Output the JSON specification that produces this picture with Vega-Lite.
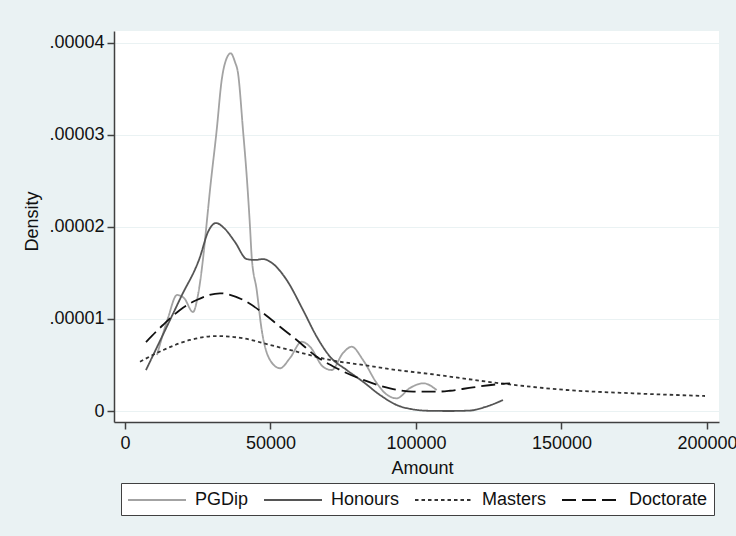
{
  "$schema": "https://vega.github.io/schema/vega-lite/v6.json",
  "width": 605,
  "height": 391,
  "autosize": {"type": "none"},
  "padding": {"left": 114, "top": 31, "right": 17, "bottom": 114},
  "background": "#EAF2F3",
  "config": {
    "font": "Liberation Sans",
    "view": {"fill": "white", "stroke": null}
  },
  "data": {
    "values": [
      {"g": "PGDip", "x": 10996, "y": 6.08e-6},
      {"g": "PGDip", "x": 14776, "y": 1.01e-5},
      {"g": "PGDip", "x": 17869, "y": 1.26e-5},
      {"g": "PGDip", "x": 20274, "y": 1.227e-5},
      {"g": "PGDip", "x": 23367, "y": 1.075e-5},
      {"g": "PGDip", "x": 25086, "y": 1.26e-5},
      {"g": "PGDip", "x": 26804, "y": 1.65e-5},
      {"g": "PGDip", "x": 28075, "y": 2.041e-5},
      {"g": "PGDip", "x": 29209, "y": 2.4e-5},
      {"g": "PGDip", "x": 31511, "y": 3.051e-5},
      {"g": "PGDip", "x": 33229, "y": 3.594e-5},
      {"g": "PGDip", "x": 34707, "y": 3.811e-5},
      {"g": "PGDip", "x": 36322, "y": 3.884e-5},
      {"g": "PGDip", "x": 37800, "y": 3.789e-5},
      {"g": "PGDip", "x": 38831, "y": 3.67e-5},
      {"g": "PGDip", "x": 40549, "y": 3.051e-5},
      {"g": "PGDip", "x": 41924, "y": 2.508e-5},
      {"g": "PGDip", "x": 42955, "y": 2.001e-5},
      {"g": "PGDip", "x": 43537, "y": 1.675e-5},
      {"g": "PGDip", "x": 45256, "y": 1.314e-5},
      {"g": "PGDip", "x": 46974, "y": 8.8e-6},
      {"g": "PGDip", "x": 49828, "y": 5.54e-6},
      {"g": "PGDip", "x": 53264, "y": 4.64e-6},
      {"g": "PGDip", "x": 56700, "y": 5.75e-6},
      {"g": "PGDip", "x": 60721, "y": 7.52e-6},
      {"g": "PGDip", "x": 63573, "y": 6.98e-6},
      {"g": "PGDip", "x": 68041, "y": 4.81e-6},
      {"g": "PGDip", "x": 71030, "y": 4.45e-6},
      {"g": "PGDip", "x": 74913, "y": 6.3e-6},
      {"g": "PGDip", "x": 77903, "y": 6.98e-6},
      {"g": "PGDip", "x": 81786, "y": 5.54e-6},
      {"g": "PGDip", "x": 86494, "y": 3.04e-6},
      {"g": "PGDip", "x": 89690, "y": 1.85e-6},
      {"g": "PGDip", "x": 93366, "y": 1.38e-6},
      {"g": "PGDip", "x": 97937, "y": 2.5e-6},
      {"g": "PGDip", "x": 102507, "y": 3.01e-6},
      {"g": "PGDip", "x": 107112, "y": 2.28e-6},
      {"g": "Honours", "x": 7216, "y": 4.45e-6},
      {"g": "Honours", "x": 19243, "y": 1.238e-5},
      {"g": "Honours", "x": 25773, "y": 1.672e-5},
      {"g": "Honours", "x": 28522, "y": 1.944e-5},
      {"g": "Honours", "x": 31271, "y": 2.041e-5},
      {"g": "Honours", "x": 34020, "y": 1.987e-5},
      {"g": "Honours", "x": 37800, "y": 1.835e-5},
      {"g": "Honours", "x": 41820, "y": 1.65e-5},
      {"g": "Honours", "x": 44673, "y": 1.64e-5},
      {"g": "Honours", "x": 47422, "y": 1.65e-5},
      {"g": "Honours", "x": 50515, "y": 1.607e-5},
      {"g": "Honours", "x": 55566, "y": 1.422e-5},
      {"g": "Honours", "x": 61168, "y": 1.097e-5},
      {"g": "Honours", "x": 65875, "y": 8.07e-6},
      {"g": "Honours", "x": 70446, "y": 5.9e-6},
      {"g": "Honours", "x": 76184, "y": 4.45e-6},
      {"g": "Honours", "x": 81785, "y": 3.18e-6},
      {"g": "Honours", "x": 87628, "y": 1.74e-6},
      {"g": "Honours", "x": 93366, "y": 6.5e-7},
      {"g": "Honours", "x": 98968, "y": 1.8e-7},
      {"g": "Honours", "x": 104810, "y": 2e-8},
      {"g": "Honours", "x": 111683, "y": 0},
      {"g": "Honours", "x": 118555, "y": 5e-8},
      {"g": "Honours", "x": 123710, "y": 4.3e-7},
      {"g": "Honours", "x": 129896, "y": 1.19e-6},
      {"g": "Masters", "x": 5155, "y": 5.35e-6},
      {"g": "Masters", "x": 13161, "y": 6.62e-6},
      {"g": "Masters", "x": 22337, "y": 7.71e-6},
      {"g": "Masters", "x": 31511, "y": 8.14e-6},
      {"g": "Masters", "x": 40652, "y": 7.89e-6},
      {"g": "Masters", "x": 49828, "y": 7.17e-6},
      {"g": "Masters", "x": 59003, "y": 6.44e-6},
      {"g": "Masters", "x": 70446, "y": 5.54e-6},
      {"g": "Masters", "x": 81889, "y": 4.99e-6},
      {"g": "Masters", "x": 93366, "y": 4.45e-6},
      {"g": "Masters", "x": 104810, "y": 4.02e-6},
      {"g": "Masters", "x": 128865, "y": 3.01e-6},
      {"g": "Masters", "x": 151784, "y": 2.28e-6},
      {"g": "Masters", "x": 174568, "y": 1.92e-6},
      {"g": "Masters", "x": 199312, "y": 1.63e-6},
      {"g": "Doctorate", "x": 7216, "y": 7.49e-6},
      {"g": "Doctorate", "x": 13058, "y": 9.34e-6},
      {"g": "Doctorate", "x": 18900, "y": 1.097e-5},
      {"g": "Doctorate", "x": 24638, "y": 1.205e-5},
      {"g": "Doctorate", "x": 32646, "y": 1.278e-5},
      {"g": "Doctorate", "x": 40652, "y": 1.205e-5},
      {"g": "Doctorate", "x": 47525, "y": 1.061e-5},
      {"g": "Doctorate", "x": 53264, "y": 9.15e-6},
      {"g": "Doctorate", "x": 59003, "y": 7.71e-6},
      {"g": "Doctorate", "x": 65875, "y": 5.9e-6},
      {"g": "Doctorate", "x": 72748, "y": 4.64e-6},
      {"g": "Doctorate", "x": 81889, "y": 3.37e-6},
      {"g": "Doctorate", "x": 91064, "y": 2.46e-6},
      {"g": "Doctorate", "x": 99070, "y": 2.1e-6},
      {"g": "Doctorate", "x": 107112, "y": 2.1e-6},
      {"g": "Doctorate", "x": 111683, "y": 2.2e-6},
      {"g": "Doctorate", "x": 119586, "y": 2.57e-6},
      {"g": "Doctorate", "x": 128865, "y": 2.93e-6},
      {"g": "Doctorate", "x": 132301, "y": 3.01e-6}
    ]
  },
  "mark": {"type": "line", "interpolate": "monotone"},
  "encoding": {
    "x": {
      "field": "x", "type": "quantitative",
      "scale": {"domain": [-3780, 204124], "nice": false, "zero": false},
      "axis": {
        "title": "Amount",
        "values": [0, 50000, 100000, 150000, 200000],
        "format": "d",
        "grid": false,
        "domainColor": "#404040", "domainWidth": 1.5,
        "tickColor": "#404040", "tickWidth": 1.5, "tickSize": 7,
        "labelFontSize": 18, "labelColor": "#111", "labelPadding": 5,
        "labelFlush": false, "labelOverlap": false,
        "titleFontSize": 18, "titleFontWeight": "normal", "titleColor": "#111",
        "titleX": 308, "titleY": 46, "titleBaseline": "middle"
      }
    },
    "y": {
      "field": "y", "type": "quantitative",
      "scale": {"domain": [-1.194e-6, 4.126e-5], "nice": false, "zero": false},
      "axis": {
        "title": "Density",
        "values": [0, 0.00001, 0.00002, 0.00003, 0.00004],
        "labelExpr": "datum.value == 0 ? '0' : replace(format(datum.value, '.5f'), '0.', '.')",
        "grid": true, "gridColor": "#EAF2F3", "gridWidth": 1.2,
        "domainColor": "#404040", "domainWidth": 1.5,
        "tickColor": "#404040", "tickWidth": 1.5, "tickSize": 7,
        "labelFontSize": 18, "labelColor": "#111", "labelPadding": 3,
        "labelFlush": false, "labelOverlap": false,
        "titleFontSize": 18, "titleFontWeight": "normal", "titleColor": "#111",
        "titleX": -82, "titleY": 190, "titleAngle": -90, "titleBaseline": "middle", "titleAlign": "center"
      }
    },
    "color": {
      "field": "g", "type": "nominal",
      "scale": {"domain": ["PGDip", "Honours", "Masters", "Doctorate"], "range": ["#A3A3A3", "#555555", "#333333", "#111111"]},
      "legend": {
        "title": null,
        "orient": "none",
        "legendX": 7, "legendY": 452,
        "direction": "horizontal", "columns": 4,
        "symbolType": "M-1,0H4.8", "symbolSize": 400,
        "labelFontSize": 18, "labelColor": "#111", "labelOffset": 46,
        "columnPadding": 11,
        "padding": 6,
        "strokeColor": "#404040", "fillColor": "white"
      }
    },
    "strokeDash": {
      "field": "g", "type": "nominal",
      "scale": {"domain": ["PGDip", "Honours", "Masters", "Doctorate"], "range": [[1, 0], [1, 0], [3.5, 3], [14, 6]]}
    },
    "strokeWidth": {
      "field": "g", "type": "nominal",
      "scale": {"domain": ["PGDip", "Honours", "Masters", "Doctorate"], "range": [1.8, 1.8, 2.6, 3]}
    }
  }
}
